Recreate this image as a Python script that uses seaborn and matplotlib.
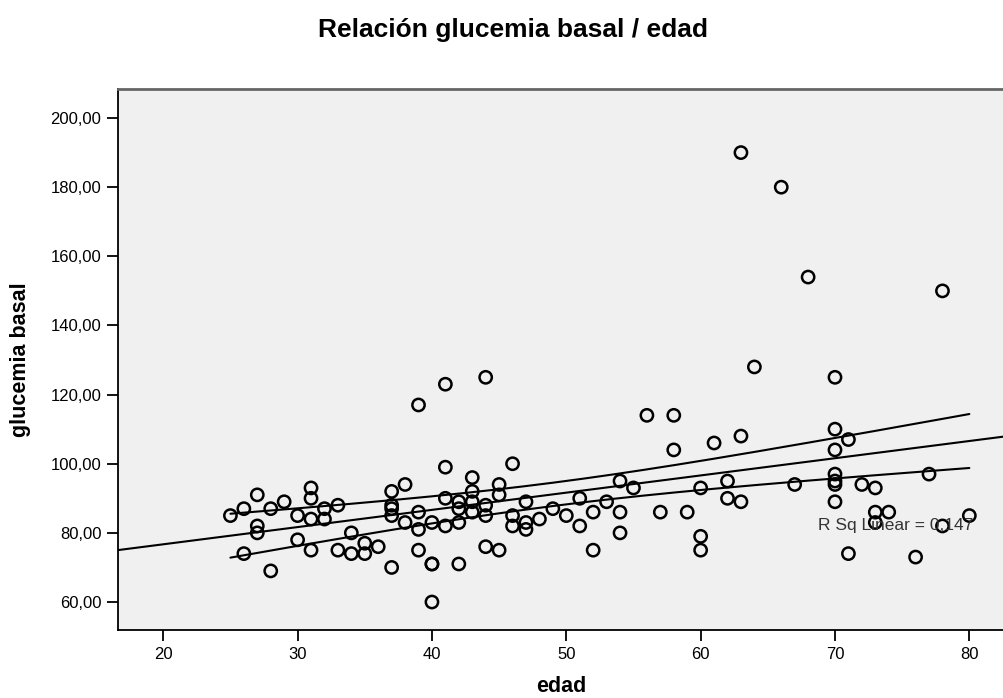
import numpy as np
import pandas as pd
import matplotlib
matplotlib.use("Agg")
import matplotlib.pyplot as plt
from matplotlib.ticker import FuncFormatter
import seaborn as sns

# ---- data ----
edad = [25,
        26, 26,
        27, 27, 27,
        28, 28,
        29,
        30, 30,
        31, 31, 31, 31,
        32, 32,
        33, 33,
        34, 34,
        35, 35,
        36,
        37, 37, 37, 37, 37,
        38, 38,
        39, 39, 39, 39,
        40, 40, 40, 40,
        41, 41, 41, 41,
        42, 42, 42, 42,
        43, 43, 43, 43,
        44, 44, 44, 44,
        45, 45, 45,
        46, 46, 46,
        47, 47, 47,
        48, 49, 50,
        51, 51,
        52, 52,
        53,
        54, 54, 54,
        55, 56, 57,
        58, 58,
        59,
        60, 60, 60,
        61,
        62, 62,
        63, 63, 63,
        64, 66, 67, 68,
        70, 70, 70, 70, 70, 70, 70,
        71, 71,
        72,
        73, 73, 73,
        74, 76, 77,
        78, 78,
        80]
glucemia = [85,
            87, 74,
            91, 82, 80,
            87, 69,
            89,
            85, 78,
            93, 90, 84, 75,
            87, 84,
            88, 75,
            80, 74,
            77, 74,
            76,
            92, 88, 87, 85, 70,
            94, 83,
            117, 86, 81, 75,
            83, 71, 71, 60,
            123, 99, 90, 82,
            89, 87, 83, 71,
            96, 92, 89, 86,
            125, 88, 85, 76,
            94, 91, 75,
            100, 85, 82,
            89, 83, 81,
            84, 87, 85,
            90, 82,
            86, 75,
            89,
            95, 86, 80,
            93, 114, 86,
            114, 104,
            86,
            93, 79, 75,
            106,
            95, 90,
            190, 108, 89,
            128, 180, 94, 154,
            125, 110, 104, 97, 95, 94, 89,
            107, 74,
            94,
            93, 86, 83,
            86, 73, 97,
            150, 82,
            85]
x_ticks = [20, 30, 40, 50, 60, 70, 80]
y_ticks = [60, 80, 100, 120, 140, 160, 180, 200]
title = "Relación glucemia basal / edad"
x_label = "edad"
y_label = "glucemia basal"
r2_label = "R Sq Linear = 0,147"

df = pd.DataFrame({"edad": edad, "glucemia": glucemia})

sns.set_theme(style="ticks")
plt.rcParams["font.family"] = ["Liberation Sans", "DejaVu Sans"]
plt.rcParams["text.color"] = "black"
plt.rcParams["axes.labelcolor"] = "black"

fig = plt.figure(figsize=(10.04, 6.98), dpi=100)
ax = fig.add_axes([0.1175, 0.0974, 0.8825, 0.7751])
ax.set_facecolor("#F0F0F0")
ax.set_xlim(16.63, 82.58)
ax.set_ylim(51.9, 208.4)

sns.regplot(data=df, x="edad", y="glucemia", ax=ax, ci=None, truncate=False,
            color="black",
            scatter_kws=dict(facecolors="none", edgecolors="black", s=78,
                             linewidths=1.8, alpha=1.0, zorder=3),
            line_kws=dict(color="black", lw=1.5, zorder=2))

# 95% confidence lines for the mean (computed from the data)
x = np.asarray(edad, float)
y = np.asarray(glucemia, float)
n = len(x)
b1, b0 = np.polyfit(x, y, 1)
resid = y - (b0 + b1 * x)
s = np.sqrt(np.sum(resid ** 2) / (n - 2))
xg = np.linspace(x.min(), x.max(), 200)
se = s * np.sqrt(1.0 / n + (xg - x.mean()) ** 2 / np.sum((x - x.mean()) ** 2))
tval = 1.983
yhat = b0 + b1 * xg
ax.plot(xg, yhat + tval * se, color="black", lw=1.5, zorder=2)
ax.plot(xg, yhat - tval * se, color="black", lw=1.5, zorder=2)

ax.text(68.75, 82.0, r2_label, fontsize=12.5, color="#333333",
        ha="left", va="center", zorder=4)

ax.set_xticks(x_ticks)
ax.set_yticks(y_ticks)
ax.yaxis.set_major_formatter(FuncFormatter(lambda v, p: f"{v:.2f}".replace(".", ",")))
ax.tick_params(axis="both", direction="out", length=8, width=1.3,
               color="black", labelsize=12, labelcolor="black", pad=4)

for side in ["left", "bottom"]:
    ax.spines[side].set_color("black")
    ax.spines[side].set_linewidth(1.3)
ax.spines["top"].set_visible(True)
ax.spines["top"].set_color("#666666")
ax.spines["top"].set_linewidth(2)
ax.spines["right"].set_visible(False)

ax.set_xlabel(x_label, fontsize=15.5, fontweight="bold", labelpad=10,
              color="black")
ax.set_ylabel(y_label, fontsize=15.5, fontweight="bold", labelpad=14,
              color="black")
fig.text(0.5105, 0.957, title, fontsize=19, fontweight="bold",
         ha="center", va="center", color="black")

fig.savefig("out.png", dpi=100, facecolor="white")
